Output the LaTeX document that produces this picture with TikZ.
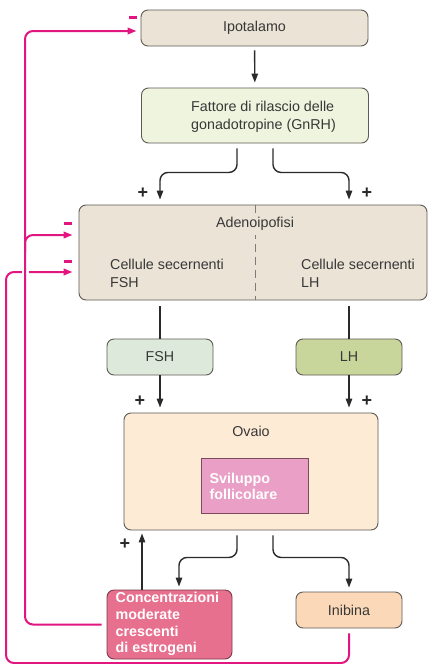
\documentclass[tikz,border=0pt]{standalone}
\usepackage{fontspec}
\setmainfont{Liberation Sans}
\usetikzlibrary{arrows.meta,calc}

\definecolor{beige}{HTML}{EAE3D6}
\definecolor{gnrhgreen}{HTML}{EFF4DE}
\definecolor{fshgreen}{HTML}{DDEADB}
\definecolor{lhgreen}{HTML}{C8D69C}
\definecolor{peach}{HTML}{FDEBD5}
\definecolor{follpink}{HTML}{EAA0C6}
\definecolor{follline}{HTML}{7E4A5E}
\definecolor{rose}{HTML}{E8708F}
\definecolor{roseline}{HTML}{7A3A4C}
\definecolor{inibfill}{HTML}{FBD9B8}
\definecolor{fbmag}{HTML}{E21680}
\definecolor{boxline}{HTML}{5F5A55}
\definecolor{txt}{HTML}{383838}
\definecolor{conn}{HTML}{2A2A2A}

\tikzset{
  box/.style={draw=boxline, line width=0.9pt, rounded corners=7pt, inner sep=0pt,
              font=\fontsize{14.3}{17.5}\selectfont, text=txt},
  lbl/.style={inner sep=0pt, font=\fontsize{14.3}{17.5}\selectfont, text=txt},
  wlbl/.style={inner sep=0pt, font=\fontsize{14.3}{16.7}\selectfont\bfseries, text=white, align=left},
  plus/.style={inner sep=0pt, font=\fontsize{18}{18}\selectfont\bfseries, text=conn},
  minusbar/.style={fill=fbmag, inner sep=0pt, minimum width=8pt, minimum height=3pt},
  conline/.style={draw=conn, line width=1.4pt, rounded corners=8pt},
  conarrow/.style={conline, -{Triangle[length=9pt,width=6.5pt]}},
  fbline/.style={draw=fbmag, line width=2pt, rounded corners=8pt},
  fbarrow/.style={fbline, -{Triangle[length=9pt,width=6.5pt]}},
}

\begin{document}
\begin{tikzpicture}[x=1pt,y=-1pt]
\fill[white] (0,0) rectangle (428,664);
\useasboundingbox (0,0) rectangle (428,664);

% boxes
\node[box, fill=beige, minimum width=227pt, minimum height=36pt] (ipo) at (254.5,28) {Ipotalamo};
\node[box, fill=gnrhgreen, minimum width=227pt, minimum height=55pt] (gnrh) at (255,115.5) {};
\node[lbl, align=left] (gnrhtxt) at (263.5,117) {Fattore di rilascio delle\\gonadotropine (GnRH)};

\node[box, fill=beige, minimum width=348pt, minimum height=95pt] (adeno) at (253,252.5) {};
\draw[draw=boxline!80, line width=0.8pt, dash pattern=on 8pt off 5pt]
  ([xshift=2pt]adeno.north) -- ([xshift=2pt]adeno.south);
\node[lbl, fill=beige, inner xsep=2pt, inner ysep=4pt] (adenotxt) at (255,224) {Adenoipofisi};
\node[lbl, align=left, anchor=west] (cfsh) at (110,273.5) {Cellule secernenti\\FSH};
\node[lbl, align=left, anchor=west] (clh) at (301,273.5) {Cellule secernenti\\LH};

\node[box, fill=fshgreen, minimum width=106pt, minimum height=36pt] (fsh) at (160,357) {FSH};
\node[box, fill=lhgreen, minimum width=106pt, minimum height=36pt] (lh) at (349,357) {LH};

\node[box, fill=peach, minimum width=254pt, minimum height=117pt] (ovaio) at (251,471.5) {};
\node[lbl] (ovaiotxt) at (251,431) {Ovaio};
\node[draw=follline, line width=1pt, fill=follpink, minimum width=107pt, minimum height=55pt] (svil) at (254.5,485.5) {};
\node[wlbl, anchor=west] (sviltxt) at (209.5,486.5) {Sviluppo\\follicolare};

\node[box, draw=roseline, fill=rose, minimum width=125pt, minimum height=69pt] (conc) at (169.5,624.5) {};
\node[wlbl, anchor=west] (conctxt) at (115.5,624) {Concentrazioni\\moderate\\crescenti\\di estrogeni};
\node[box, fill=inibfill, minimum width=106pt, minimum height=36pt] (inib) at (349,610) {Inibina};

% stimulatory pathway
\draw[conarrow, shorten <=4pt, shorten >=5pt] (ipo) -- (gnrh);
\draw[conarrow, shorten <=5pt, shorten >=5pt] ([xshift=-18pt]gnrh.south) -- ++(0,29) -| (fsh.north |- adeno.north);
\draw[conarrow, shorten <=5pt, shorten >=5pt] ([xshift=18pt]gnrh.south) -- ++(0,29) -| (lh.north |- adeno.north);
\draw[conline, shorten <=6pt] (fsh.north |- adeno.south) -- (fsh.north);
\draw[conline, shorten <=6pt] (lh.north |- adeno.south) -- (lh.north);
\draw[conarrow, shorten >=5pt] (fsh.south) -- (fsh.south |- ovaio.north);
\draw[conarrow, shorten >=5pt] (lh.south) -- (lh.south |- ovaio.north);
\draw[conarrow, shorten <=5pt, shorten >=3pt] ([xshift=-14pt]ovaio.south) -- ++(0,27) -| ([xshift=9.5pt]conc.north);
\draw[conarrow, shorten <=5pt, shorten >=4pt] ([xshift=22pt]ovaio.south) -- ++(0,27) -| (inib.north);
\draw[conarrow, shorten >=3pt] ([xshift=-27.5pt]conc.north) -- ([xshift=-27.5pt]conc.north |- ovaio.south);

\node[plus] (p1) at (143,193) {+};
\node[plus] (p2) at (367,193) {+};
\node[plus] (p3) at (140,401) {+};
\node[plus] (p4) at (367,401) {+};
\node[plus] (p5) at (125,544) {+};

% negative feedback loops
\coordinate (fbtop) at (25,31);
\coordinate (fbbranch) at (25,252);
\coordinate (lowcorner) at (6,663);
\draw[fbarrow, shorten <=5pt, shorten >=6pt] (inib.south) |- (lowcorner) |- ([yshift=-19.5pt]adeno.west);
\draw[white, line width=7pt] (25,266) -- (25,278);
\draw[fbarrow, shorten <=5pt, shorten >=4pt] (conc.west) -| (fbtop) -- (fbtop -| ipo.west);
\draw[fbarrow, shorten >=6pt] (fbbranch) |- ([yshift=17.5pt]adeno.west);

\node[minusbar] (m1) at (133,17) {};
\node[minusbar] (m2) at (68,223) {};
\node[minusbar] (m3) at (68,261) {};
\end{tikzpicture}
\end{document}
